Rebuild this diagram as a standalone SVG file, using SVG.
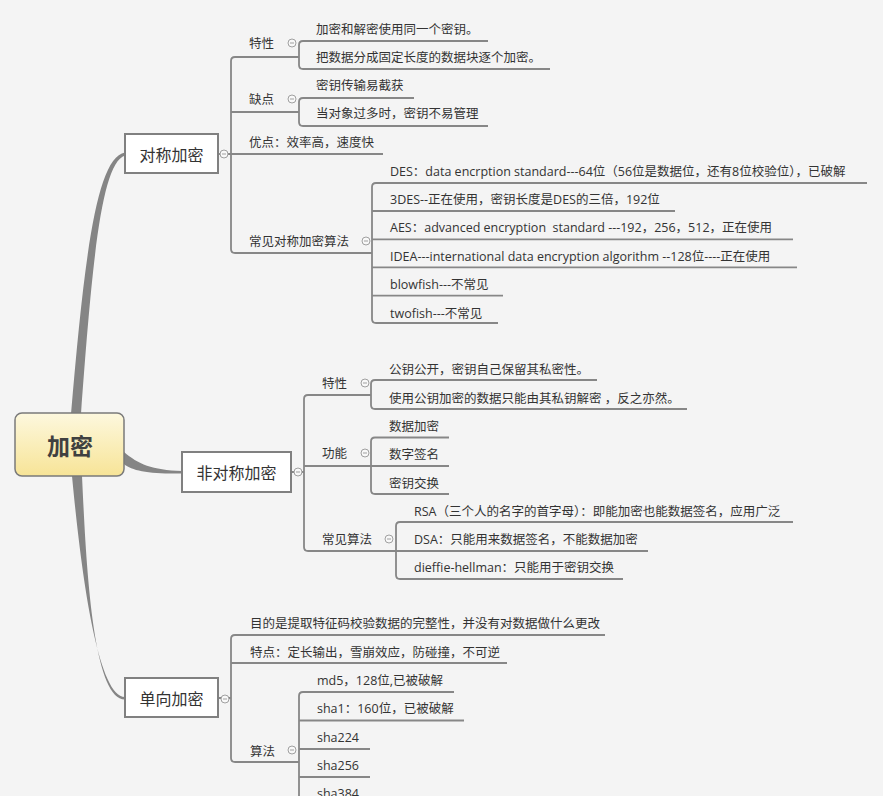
<svg xmlns="http://www.w3.org/2000/svg" width="883" height="796" viewBox="0 0 883 796">
<defs>
<linearGradient id="rootGrad" x1="0" y1="0" x2="0" y2="1">
<stop offset="0" stop-color="#fdf8de"/>
<stop offset="1" stop-color="#f7e497"/>
</linearGradient>
<style>
.t{font-family:"Open Sans","Noto Sans CJK SC",sans-serif;font-size:12.5px;fill:#333;dominant-baseline:central;white-space:pre}
.bt{font-family:"Noto Sans CJK SC",sans-serif;font-size:16px;fill:#333;text-anchor:middle;dominant-baseline:central}
.box{fill:#fff;stroke:#808080;stroke-width:2}
.ln{fill:none;stroke:#878787;stroke-width:1.8}
.main{fill:#858585}
.cc{fill:#f8f8f8;stroke:#a0a0a0;stroke-width:1}
.cm{stroke:#a0a0a0;stroke-width:1}
</style>
</defs>
<rect width="883" height="796" fill="#f4f4f4"/>

<g id="connectors">
<path class="main" d="M71,414 C84,262 96,157 125,152.5 L125,155.5 C101,163 92,265 81,414 Z"/>
<path class="main" d="M124,452 C138,464 152,470 182,471 L182,473.5 C150,474 132,471 124,464 Z"/>
<path class="main" d="M72,476 C80,560 96,697 125,697 L125,699.5 C92,699.5 86,560 82,476 Z"/>

<path class="ln" d="M299,57 H235 Q231,57 231,61 V249 Q231,253 235,253 H372"/>
<path class="ln" d="M231,112 H299"/>
<path class="ln" d="M218,154 H383"/>
<path class="ln" d="M488,41 H303 Q299,41 299,45 V65 Q299,69 303,69 H550"/>
<path class="ln" d="M414,98 H303 Q299,98 299,102 V122 Q299,126 303,126 H488"/>
<path class="ln" d="M867,183 H376 Q372,183 372,187 V319 Q372,323 376,323 H498"/>
<path class="ln" d="M372,211 H675 M372,239.3 H793 M372,267.3 H797 M372,295.7 H503"/>

<path class="ln" d="M371,395 H308 Q304,395 304,399 V547 Q304,551 308,551 H396"/>
<path class="ln" d="M291,472 H304 M304,466 H371"/>
<path class="ln" d="M597,380 H375 Q371,380 371,384 V405 Q371,409 375,409 H687"/>
<path class="ln" d="M449,437.5 H375 Q371,437.5 371,441.5 V490 Q371,494 375,494 H449 M371,466 H449"/>
<path class="ln" d="M793,522 H400 Q396,522 396,526 V575 Q396,579 400,579 H623 M396,551 H648"/>

<path class="ln" d="M605,635 H235 Q231,635 231,639 V758 Q231,762 235,762 H299"/>
<path class="ln" d="M218,698 H231 M231,663 H507"/>
<path class="ln" d="M454,692 H303 Q299,692 299,696 V800 M299,720.5 H464 M299,749 H370 M299,777 H370"/>

<g id="collapse">
<circle class="cc" cx="224" cy="154" r="4"/><path class="cm" d="M222,154 H226"/>
<circle class="cc" cx="292" cy="43" r="4"/><path class="cm" d="M290,43 H294"/>
<circle class="cc" cx="292" cy="99" r="4"/><path class="cm" d="M290,99 H294"/>
<circle class="cc" cx="366" cy="241" r="4"/><path class="cm" d="M364,241 H368"/>
<circle class="cc" cx="298" cy="472" r="4"/><path class="cm" d="M296,472 H300"/>
<circle class="cc" cx="365" cy="383" r="4"/><path class="cm" d="M363,383 H367"/>
<circle class="cc" cx="365" cy="453" r="4"/><path class="cm" d="M363,453 H367"/>
<circle class="cc" cx="389" cy="539" r="4"/><path class="cm" d="M387,539 H391"/>
<circle class="cc" cx="225" cy="699" r="4"/><path class="cm" d="M223,699 H227"/>
<circle class="cc" cx="292" cy="750" r="4"/><path class="cm" d="M290,750 H294"/>
</g>
</g>

<g id="root">
<rect x="15" y="413" width="109" height="63" rx="7" fill="url(#rootGrad)" stroke="#7a7a7a" stroke-width="1.5"/>
<text x="70" y="445" font-family="Noto Sans CJK SC, sans-serif" font-size="23" font-weight="bold" fill="#404040" text-anchor="middle" dominant-baseline="central">加密</text>
</g>

<g id="sym">
<rect class="box" x="125" y="134" width="93" height="39"/>
<text class="bt" x="171.5" y="153.5">对称加密</text>
</g>
<g id="sym-feature"><text class="t" x="249" y="43">特性</text></g>
<g id="sym-f1"><text class="t" x="316" y="29">加密和解密使用同一个密钥。</text></g>
<g id="sym-f2"><text class="t" x="316" y="57">把数据分成固定长度的数据块逐个加密。</text></g>
<g id="sym-weak"><text class="t" x="249" y="99">缺点</text></g>
<g id="sym-w1"><text class="t" x="316" y="85">密钥传输易截获</text></g>
<g id="sym-w2"><text class="t" x="316" y="113">当对象过多时，密钥不易管理</text></g>
<g id="sym-adv"><text class="t" x="249" y="142">优点：效率高，速度快</text></g>
<g id="sym-alg"><text class="t" x="249" y="241">常见对称加密算法</text></g>
<g id="sym-a1"><text class="t" x="390" y="171">DES：data encrption standard---64位（56位是数据位，还有8位校验位），已破解</text></g>
<g id="sym-a2"><text class="t" x="390" y="199">3DES--正在使用，密钥长度是DES的三倍，192位</text></g>
<g id="sym-a3"><text class="t" x="390" y="227">AES：advanced encryption  standard ---192，256，512，正在使用</text></g>
<g id="sym-a4"><text class="t" x="390" y="256">IDEA---international data encryption algorithm --128位----正在使用</text></g>
<g id="sym-a5"><text class="t" x="390" y="284">blowfish---不常见</text></g>
<g id="sym-a6"><text class="t" x="390" y="313">twofish---不常见</text></g>

<g id="asym">
<rect class="box" x="182" y="452" width="109" height="40"/>
<text class="bt" x="236.5" y="472">非对称加密</text>
</g>
<g id="asym-feature"><text class="t" x="322" y="383">特性</text></g>
<g id="asym-f1"><text class="t" x="389" y="369">公钥公开，密钥自己保留其私密性。</text></g>
<g id="asym-f2"><text class="t" x="389" y="398">使用公钥加密的数据只能由其私钥解密 ，反之亦然。</text></g>
<g id="asym-func"><text class="t" x="322" y="453">功能</text></g>
<g id="asym-u1"><text class="t" x="389" y="426">数据加密</text></g>
<g id="asym-u2"><text class="t" x="389" y="454">数字签名</text></g>
<g id="asym-u3"><text class="t" x="389" y="483">密钥交换</text></g>
<g id="asym-alg"><text class="t" x="322" y="539">常见算法</text></g>
<g id="asym-a1"><text class="t" x="414" y="511">RSA（三个人的名字的首字母）：即能加密也能数据签名，应用广泛</text></g>
<g id="asym-a2"><text class="t" x="414" y="539">DSA：只能用来数据签名，不能数据加密</text></g>
<g id="asym-a3"><text class="t" x="414" y="567">dieffie-hellman：只能用于密钥交换</text></g>

<g id="hash">
<rect class="box" x="125" y="678" width="93" height="39"/>
<text class="bt" x="171.5" y="697.5">单向加密</text>
</g>
<g id="hash-purpose"><text class="t" x="250" y="623">目的是提取特征码校验数据的完整性，并没有对数据做什么更改</text></g>
<g id="hash-trait"><text class="t" x="250" y="652">特点：定长输出，雪崩效应，防碰撞，不可逆</text></g>
<g id="hash-alg"><text class="t" x="250" y="751">算法</text></g>
<g id="hash-a1"><text class="t" x="317" y="680">md5，128位,已被破解</text></g>
<g id="hash-a2"><text class="t" x="317" y="708">sha1：160位，已被破解</text></g>
<g id="hash-a3"><text class="t" x="317" y="737">sha224</text></g>
<g id="hash-a4"><text class="t" x="317" y="765">sha256</text></g>
<g id="hash-a5"><text class="t" x="317" y="793">sha384</text></g>
</svg>
